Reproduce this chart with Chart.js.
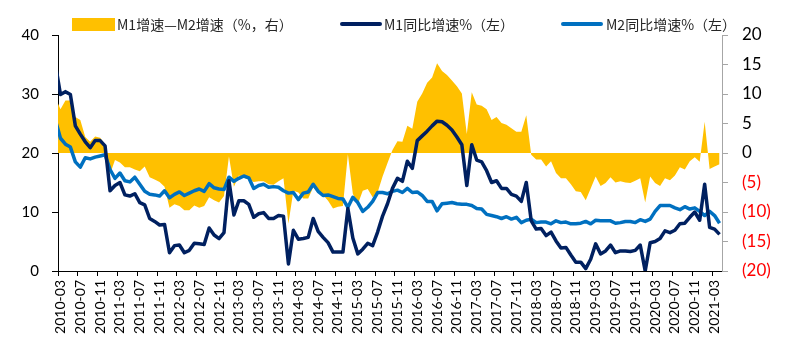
<!DOCTYPE html>
<html><head><meta charset="utf-8">
<script src="https://cdn.jsdelivr.net/npm/chart.js@4.4.1/dist/chart.umd.min.js"></script>
<style>
html,body{margin:0;padding:0;background:#fff;}
#wrap{position:relative;width:800px;height:355px;overflow:hidden;}
canvas{position:absolute;left:0;top:0;}
.lg{position:absolute;font-family:"Noto Sans CJK SC","Noto Sans",sans-serif;font-size:14px;line-height:14px;color:#262626;white-space:nowrap;}
.sw{position:absolute;}
</style></head><body>
<div id="wrap"><canvas id="c" width="800" height="355"></canvas></div>
<script>
// categories (first month sits just left of the visible axis, as in the source chart)
const months = [
'2010-02','2010-03','2010-04','2010-05','2010-06','2010-07','2010-08','2010-09','2010-10','2010-11','2010-12',
'2011-01','2011-02','2011-03','2011-04','2011-05','2011-06','2011-07','2011-08','2011-09','2011-10','2011-11','2011-12',
'2012-01','2012-02','2012-03','2012-04','2012-05','2012-06','2012-07','2012-08','2012-09','2012-10','2012-11','2012-12',
'2013-01','2013-02','2013-03','2013-04','2013-05','2013-06','2013-07','2013-08','2013-09','2013-10','2013-11','2013-12',
'2014-01','2014-02','2014-03','2014-04','2014-05','2014-06','2014-07','2014-08','2014-09','2014-10','2014-11','2014-12',
'2015-01','2015-02','2015-03','2015-04','2015-05','2015-06','2015-07','2015-08','2015-09','2015-10','2015-11','2015-12',
'2016-01','2016-02','2016-03','2016-04','2016-05','2016-06','2016-07','2016-08','2016-09','2016-10','2016-11','2016-12',
'2017-01','2017-02','2017-03','2017-04','2017-05','2017-06','2017-07','2017-08','2017-09','2017-10','2017-11','2017-12',
'2018-01','2018-02','2018-03','2018-04','2018-05','2018-06','2018-07','2018-08','2018-09','2018-10','2018-11','2018-12',
'2019-01','2019-02','2019-03','2019-04','2019-05','2019-06','2019-07','2019-08','2019-09','2019-10','2019-11','2019-12',
'2020-01','2020-02','2020-03','2020-04','2020-05','2020-06','2020-07','2020-08','2020-09','2020-10','2020-11','2020-12',
'2021-01','2021-02','2021-03','2021-04'
];
const firstVisibleMonth = '2010-03';

// M1 同比增速 (%), left axis
const m1Growth = [
34.9,29.9,30.4,29.9,24.6,23.2,21.9,20.9,22.1,22.1,21.2,
13.6,14.5,15.0,12.9,12.7,13.1,11.6,11.2,8.9,8.4,7.8,7.9,
3.1,4.3,4.4,3.1,3.5,4.7,4.6,4.5,7.3,6.1,5.5,6.5,
15.3,9.5,11.9,11.9,11.3,9.1,9.7,9.9,8.9,8.9,9.4,9.3,
1.2,6.9,5.4,5.5,5.7,8.9,6.7,5.7,4.8,3.2,3.2,3.2,
10.6,5.6,2.9,3.7,4.7,4.3,6.6,9.3,11.4,14.0,15.7,15.2,
18.6,17.4,22.1,22.9,23.7,24.6,25.4,25.3,24.7,23.9,22.7,21.4,
14.5,21.4,18.8,18.5,17.0,15.0,15.3,14.0,14.0,13.0,12.7,11.8,
15.0,8.5,7.1,7.2,6.0,6.6,5.1,3.9,4.0,2.7,1.5,1.5,
0.4,2.0,4.6,2.9,3.4,4.4,3.1,3.4,3.4,3.3,3.5,4.4,
0.0,4.8,5.0,5.5,6.8,6.5,6.9,8.0,8.1,9.1,10.0,8.6,
14.7,7.4,7.1,6.2
];

// M2 同比增速 (%), left axis
const m2Growth = [
25.5,22.5,21.5,21.0,18.5,17.6,19.2,19.0,19.3,19.5,19.7,
17.2,15.7,16.6,15.3,15.1,15.9,14.7,13.5,13.0,12.9,12.7,13.6,
12.4,13.0,13.4,12.8,13.2,13.6,13.9,13.5,14.8,14.1,13.9,13.8,
15.9,15.2,15.7,16.1,15.8,14.0,14.5,14.7,14.2,14.3,14.2,13.6,
13.2,13.3,12.1,13.2,13.4,14.7,13.5,12.8,12.9,12.6,12.3,12.2,
10.8,12.5,11.6,10.1,10.8,11.8,13.3,13.3,13.1,13.5,13.7,13.3,
14.0,13.3,13.4,12.8,11.8,11.8,10.2,11.4,11.5,11.6,11.4,11.3,
11.3,11.1,10.6,10.5,9.6,9.4,9.2,8.9,9.2,8.8,9.1,8.2,
8.6,8.8,8.2,8.3,8.3,8.0,8.5,8.2,8.3,8.0,8.0,8.1,
8.4,8.0,8.6,8.5,8.5,8.5,8.1,8.2,8.4,8.4,8.2,8.7,
8.4,8.8,10.1,11.1,11.1,11.1,10.7,10.4,10.9,10.5,10.7,10.1,
9.4,10.1,9.4,8.1
];

// M1增速 - M2增速 (percentage points), right axis
const m1m2Gap = [
9.4,7.4,8.9,8.9,6.1,5.6,2.7,1.9,2.8,2.6,1.5,
-3.6,-1.2,-1.6,-2.4,-2.4,-2.8,-3.1,-2.3,-4.1,-4.5,-4.9,-5.7,
-9.3,-8.7,-9.0,-9.7,-9.7,-8.9,-9.3,-9.0,-7.5,-8.0,-8.4,-7.3,
-0.6,-5.7,-3.8,-4.2,-4.5,-4.9,-4.8,-4.8,-5.3,-5.4,-4.8,-4.3,
-12.0,-6.4,-6.7,-7.7,-7.7,-5.8,-6.8,-7.1,-8.1,-9.4,-9.1,-9.0,
-0.2,-6.9,-8.7,-6.4,-6.1,-7.5,-6.7,-4.0,-1.7,0.5,2.0,1.9,
4.6,4.1,8.7,10.1,11.9,12.8,15.2,13.9,13.2,12.3,11.3,10.1,
3.2,10.3,8.2,8.0,7.4,5.6,6.1,5.1,4.8,4.2,3.6,3.6,
6.4,-0.3,-1.1,-1.1,-2.3,-1.4,-3.4,-4.3,-4.3,-5.3,-6.5,-6.6,
-8.0,-6.0,-4.0,-5.6,-5.1,-4.1,-5.0,-4.8,-5.0,-5.1,-4.7,-4.3,
-8.4,-4.0,-5.1,-5.6,-4.3,-4.6,-3.8,-2.4,-2.8,-1.4,-0.7,-1.5,
5.3,-2.7,-2.3,-1.9
];

const seriesNames = ['M1增速—M2增速（%，右）', 'M1同比增速%（左）', 'M2同比增速%（左）'];
const seriesColors = ['#FFC000', '#002060', '#0070C0'];
const labelEvery = 4;

// ---- HTML legend ----
const wrap = document.getElementById('wrap');
const legendLayout = [
  {sx:72, sy:18, sw:43, sh:12.5, tx:117, kind:'box'},
  {sx:340, sy:21.5, sw:42, sh:4.2, tx:384, kind:'line'},
  {sx:561, sy:21.5, sw:42, sh:4.2, tx:606, kind:'line'}
];
legendLayout.forEach((L, i) => {
  const s = document.createElement('div');
  s.className = 'sw';
  s.style.cssText = `left:${L.sx}px;top:${L.sy}px;width:${L.sw}px;height:${L.sh}px;background:${seriesColors[i]};` + (L.kind === 'line' ? 'border-radius:2px;' : '');
  wrap.appendChild(s);
  const t = document.createElement('div');
  t.className = 'lg';
  t.style.left = L.tx + 'px';
  t.style.top = '17px';
  t.textContent = seriesNames[i];
  wrap.appendChild(t);
});

// ---- chart ----
const firstIdx = months.indexOf(firstVisibleMonth);
const numFont = 'Lato, "Liberation Sans", sans-serif';

new Chart(document.getElementById('c'), {
  type: 'line',
  data: {
    labels: months,
    datasets: [
      {label: seriesNames[1], data: m1Growth, yAxisID: 'y', borderColor: seriesColors[1], backgroundColor: seriesColors[1],
       borderWidth: 3.5, pointRadius: 0, tension: 0, fill: false, order: 1, borderJoinStyle: 'round'},
      {label: seriesNames[2], data: m2Growth, yAxisID: 'y', borderColor: seriesColors[2], backgroundColor: seriesColors[2],
       borderWidth: 3.5, pointRadius: 0, tension: 0, fill: false, order: 2, borderJoinStyle: 'round'},
      {label: seriesNames[0], data: m1m2Gap, yAxisID: 'y1', borderColor: 'rgba(0,0,0,0)', backgroundColor: seriesColors[0],
       borderWidth: 0, pointRadius: 0, tension: 0, fill: 'origin', order: 3}
    ]
  },
  options: {
    responsive: false,
    animation: false,
    devicePixelRatio: 1,
    layout: {padding: {top: 35, left: 0, right: 0, bottom: 0}},
    plugins: {legend: {display: false}, tooltip: {enabled: false}},
    scales: {
      x: {
        type: 'category',
        min: firstVisibleMonth,
        offset: true,
        grid: {
          offset: true, drawOnChartArea: false, drawTicks: true, tickLength: 5, lineWidth: 1,
          tickColor: (c) => (c.tick && (c.tick.value - firstIdx) % labelEvery === 0) ? '#000' : 'rgba(0,0,0,0)'
        },
        border: {display: true, color: '#000', width: 1},
        ticks: {
          autoSkip: false, maxRotation: 90, minRotation: 90, padding: 4, color: '#000',
          font: {family: numFont, size: 14},
          callback: function (v) { return (v - firstIdx) % labelEvery === 0 ? months[v] : ''; }
        },
        afterFit: (s) => { s.height = 84; }
      },
      y: {
        position: 'left', min: 0, max: 40,
        ticks: {stepSize: 10, color: '#000', padding: 13, font: {family: numFont, size: 15}},
        grid: {drawOnChartArea: false, drawTicks: true, tickLength: 6, tickColor: '#000'},
        border: {display: true, color: '#000', width: 1},
        afterFit: (s) => { s.width = 58; }
      },
      y1: {
        position: 'right', min: -20, max: 20,
        ticks: {
          stepSize: 5, padding: 14, font: {family: numFont, size: 17},
          color: (c) => (c.tick && c.tick.value < 0) ? '#FF0000' : '#000',
          callback: (v) => v < 0 ? '(' + (-v) + ')' : String(v)
        },
        grid: {drawOnChartArea: false, drawTicks: true, tickLength: 6, tickColor: '#A6A6A6'},
        border: {display: true, color: '#A6A6A6', width: 1},
        afterFit: (s) => { s.width = 78; }
      }
    }
  }
});
</script>
</body></html>
